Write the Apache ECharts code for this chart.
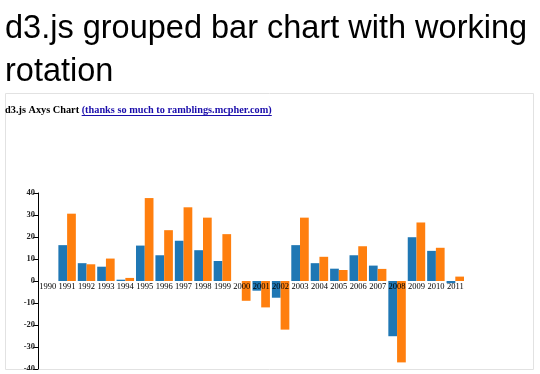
<!DOCTYPE html>
<html>
<head>
<meta charset="utf-8">
<script src="https://cdn.jsdelivr.net/npm/echarts@6/dist/echarts.min.js"></script>
<style>
html,body{margin:0;padding:0;background:#fff;}
#chart{width:540px;height:370px;}
</style>
</head>
<body>
<div id="chart"></div>
<script>
const pageTitle1 = 'd3.js grouped bar chart with working';
const pageTitle2 = 'rotation';
const chartTitle = 'd3.js Axys Chart ';
const chartLink = '(thanks so much to ramblings.mcpher.com)';
const years = ['1990','1991','1992','1993','1994','1995','1996','1997','1998','1999','2000','2001','2002','2003','2004','2005','2006','2007','2008','2009','2010','2011'];
const seriesA = [0, 16.3, 8.1, 6.5, 0.6, 16.1, 11.7, 18.3, 14.0, 9.1, 0, -4.4, -7.6, 16.3, 8.1, 5.6, 11.7, 7.0, -25.1, 19.9, 13.7, -1.0];
const seriesB = [0, 30.6, 7.6, 10.2, 1.4, 37.7, 23.1, 33.5, 28.8, 21.3, -9.0, -12.0, -22.1, 28.8, 11.0, 5.0, 15.8, 5.5, -37.0, 26.6, 15.1, 2.0];
const yTicks = {min: -40, max: 40, interval: 10};

const titleFont = '32.5px "Liberation Sans", Arial, sans-serif';
const subFont = 'bold 10.3px "Liberation Serif", "Times New Roman", serif';
const mc = document.createElement('canvas').getContext('2d');
mc.font = subFont;
const w1 = mc.measureText(chartTitle).width;
const w2 = mc.measureText(chartLink).width;

const chart = echarts.init(document.getElementById('chart'), null, {renderer: 'canvas'});
chart.setOption({
  animation: false,
  backgroundColor: '#fff',
  grid: {left: 38, right: 75, top: 193, bottom: 1, containLabel: false, outerBoundsMode: 'none'},
  xAxis: {
    type: 'category', data: years, z: 10, position: 'bottom',
    axisLine: {show: false, onZero: false},
    axisTick: {show: false},
    axisLabel: {margin: -86.5, fontSize: 8.5, color: '#000', fontFamily: '"Liberation Serif", "Times New Roman", serif', interval: 0, hideOverlap: false}
  },
  yAxis: {
    type: 'value', min: yTicks.min, max: yTicks.max, interval: yTicks.interval,
    axisLine: {show: true, lineStyle: {color: '#000', width: 1}},
    axisTick: {show: true, length: 5, lineStyle: {color: '#000'}},
    splitLine: {show: false},
    axisLabel: {margin: 3, fontSize: 8.5, fontWeight: 'bold', color: '#222', fontFamily: '"Liberation Serif", "Times New Roman", serif'}
  },
  series: [
    {type: 'bar', data: seriesA, itemStyle: {color: '#1f77b4'}, barGap: '0%', barCategoryGap: '10%'},
    {type: 'bar', data: seriesB, itemStyle: {color: '#ff7f0e'}, barGap: '0%', barCategoryGap: '10%'}
  ],
  graphic: [
    {type: 'rect', shape: {x: 5.5, y: 93.5, width: 528, height: 276}, style: {fill: 'none', stroke: '#e2e2e2', lineWidth: 1}, z: -1, silent: true},
    {type: 'text', x: 5, y: 29.5, style: {text: pageTitle1, font: titleFont, fill: '#000', verticalAlign: 'middle'}},
    {type: 'text', x: 5, y: 72, style: {text: pageTitle2, font: titleFont, fill: '#000', verticalAlign: 'middle'}},
    {type: 'text', x: 5, y: 110.5, style: {text: chartTitle, font: subFont, fill: '#000', verticalAlign: 'middle'}},
    {type: 'text', x: 5 + w1, y: 110.5, style: {text: chartLink, font: subFont, fill: '#1a0dab', verticalAlign: 'middle'}},
    {type: 'line', shape: {x1: 5 + w1, y1: 115.5, x2: 5 + w1 + w2, y2: 115.5}, style: {stroke: '#1a0dab', lineWidth: 1}}
  ]
});
</script>
</body>
</html>
